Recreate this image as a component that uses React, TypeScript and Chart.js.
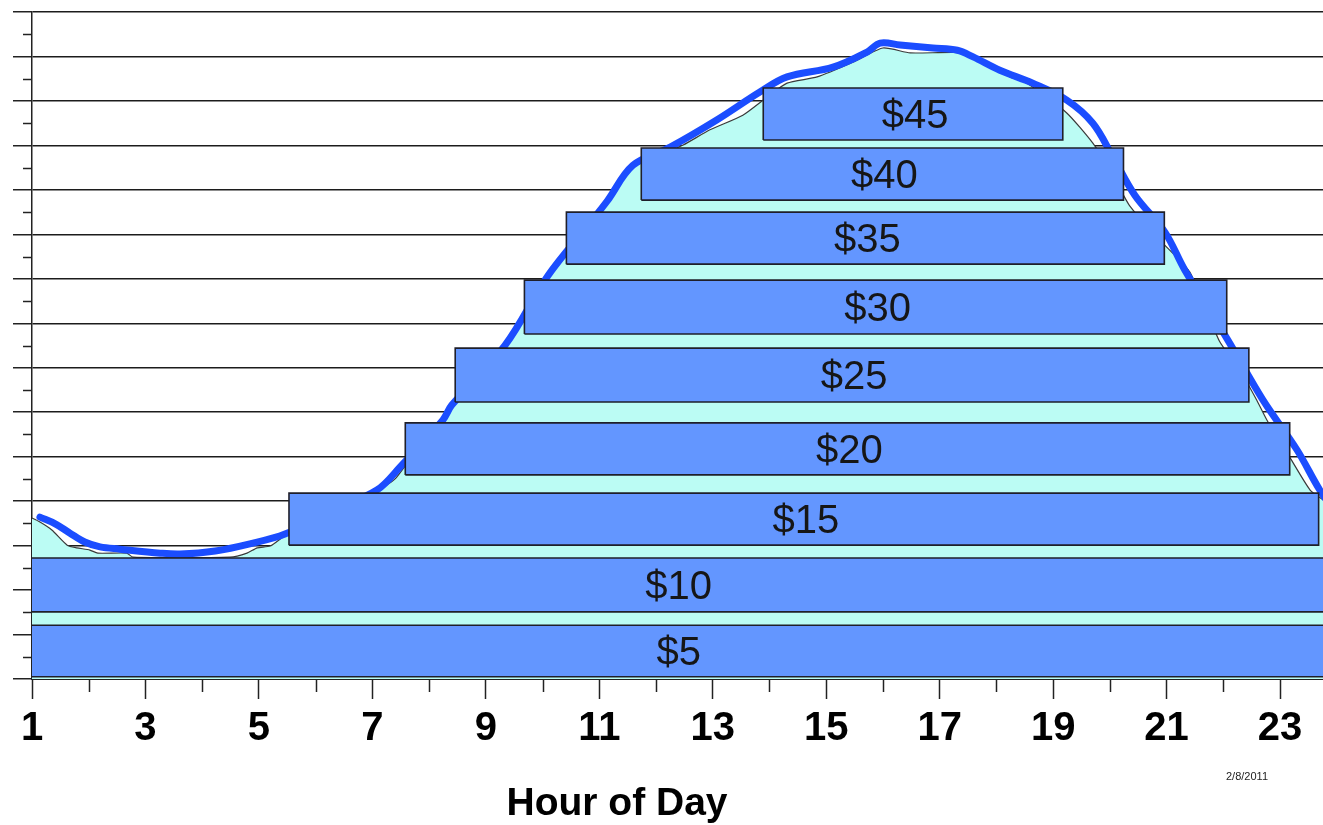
import React, { useEffect, useRef } from "react";
import { Chart, registerables } from "chart.js";

Chart.register(...registerables);

// ---- data ----
const xTickHours = [1, 3, 5, 7, 9, 11, 13, 15, 17, 19, 21, 23];
const xMinorHours = [2, 4, 6, 8, 10, 12, 14, 16, 18, 20, 22];
const yMajorTicks = [0, 1, 2, 3, 4, 5, 6, 7, 8, 9, 10, 11, 12, 13, 14, 15];
const yMinorTicks = [0.5, 1.5, 2.5, 3.5, 4.5, 5.5, 6.5, 7.5, 8.5, 9.5, 10.5, 11.5, 12.5, 13.5, 14.5];

// demand curve (area edge)
const demandHours = [0.965, 1.14, 1.35, 1.62, 1.79, 2.02, 2.16, 2.67, 2.78, 4.49, 4.79, 4.97, 5.2, 5.42, 5.72, 6.43, 7.05, 7.4, 7.84, 8.33, 8.9, 9.43, 9.78, 10.18, 10.57, 11.01, 11.37, 11.59, 12.07, 12.48, 12.95, 13.53, 13.96, 14.31, 14.84, 15.47, 16.0, 16.48, 17.45, 17.76, 18.24, 18.54, 19.24, 19.7, 20.0, 20.35, 20.88, 21.41, 21.93, 22.29, 22.59, 22.77, 23.17, 23.53, 23.76, 24.06];
const demandValues = [3.64, 3.53, 3.35, 3.01, 2.95, 2.9, 2.83, 2.83, 2.74, 2.74, 2.83, 2.95, 2.99, 3.19, 3.46, 3.91, 4.21, 4.5, 5.26, 6.0, 6.84, 7.6, 8.41, 9.15, 9.87, 10.59, 11.15, 11.51, 11.78, 12.01, 12.35, 12.68, 13.09, 13.4, 13.54, 13.87, 14.19, 14.08, 14.08, 13.85, 13.54, 13.4, 12.73, 12.05, 11.45, 10.64, 9.87, 9.15, 7.6, 6.95, 6.27, 5.82, 4.99, 4.25, 4.03, 3.69];

// hand-drawn blue trace
const traceHours = [1.14, 1.41, 1.67, 1.93, 2.2, 2.55, 3.26, 3.61, 4.23, 4.84, 5.46, 6.25, 7.08, 7.49, 8.24, 8.4, 9.34, 10.1, 10.8, 11.14, 11.59, 12.25, 13.07, 13.83, 14.31, 15.12, 15.72, 15.95, 16.3, 16.88, 17.31, 17.59, 18.06, 18.64, 19.24, 19.7, 20.05, 20.44, 20.97, 21.32, 22.08, 22.7, 23.3, 23.7, 24.06];
const traceValues = [3.64, 3.49, 3.28, 3.08, 2.97, 2.92, 2.83, 2.81, 2.88, 3.04, 3.26, 3.76, 4.25, 4.77, 5.82, 6.16, 7.51, 9.08, 10.2, 10.75, 11.55, 11.96, 12.57, 13.2, 13.54, 13.76, 14.1, 14.3, 14.26, 14.19, 14.14, 13.99, 13.69, 13.4, 13.02, 12.5, 11.75, 10.88, 10.05, 9.2, 7.62, 6.27, 5.15, 4.25, 3.58];

// price blocks
const blockLabels = ["$5", "$10", "$15", "$20", "$25", "$30", "$35", "$40", "$45"];
const blockStart = [0.97, 0.97, 5.53, 7.58, 8.46, 9.68, 10.42, 11.74, 13.89];
const blockEnd = [24.5, 24.5, 23.68, 23.17, 22.45, 22.06, 20.96, 20.24, 19.17];
const blockBottom = [0.05, 1.51, 3.01, 4.59, 6.23, 7.76, 9.33, 10.77, 12.12];
const blockTop = [1.21, 2.72, 4.18, 5.76, 7.44, 8.97, 10.5, 11.94, 13.29];

const X_MIN = 1;
const X_MAX = 23.757;
const FONT = "'Liberation Sans', Arial, Helvetica, sans-serif";

const extrasPlugin = {
  id: "extras",
  afterDatasetsDraw(chart: any) {
    const { ctx, chartArea } = chart;
    const x = chart.scales.x;
    const y = chart.scales.y;
    ctx.save();
    ctx.fillStyle = "#161616";
    ctx.font = `40px ${FONT}`;
    ctx.textAlign = "center";
    ctx.textBaseline = "alphabetic";
    blockLabels.forEach((lab, i) => {
      const l = Math.max(chartArea.left - 2, x.getPixelForValue(blockStart[i]));
      const r = Math.min(chartArea.right, x.getPixelForValue(blockEnd[i]));
      const cy = (y.getPixelForValue(blockBottom[i]) + y.getPixelForValue(blockTop[i])) / 2;
      ctx.fillText(lab, (l + r) / 2 + 2, cy + 14);
    });
    ctx.restore();
  },
  afterDraw(chart: any) {
    const { ctx, chartArea } = chart;
    const x = chart.scales.x;
    const y = chart.scales.y;
    ctx.save();
    ctx.strokeStyle = "#222";
    ctx.lineWidth = 1.5;
    xMinorHours.forEach((h) => {
      const px = Math.round(x.getPixelForValue(h)) + 0.5;
      ctx.beginPath();
      ctx.moveTo(px, chartArea.bottom);
      ctx.lineTo(px, chartArea.bottom + 13);
      ctx.stroke();
    });
    yMinorTicks.forEach((v) => {
      const py = Math.round(y.getPixelForValue(v)) + 0.5;
      ctx.beginPath();
      ctx.moveTo(chartArea.left - 9, py);
      ctx.lineTo(chartArea.left, py);
      ctx.stroke();
    });
    ctx.fillStyle = "#000";
    ctx.textAlign = "center";
    ctx.textBaseline = "alphabetic";
    ctx.font = `bold 39px ${FONT}`;
    ctx.fillText("Hour of Day", 617, 815);
    ctx.font = `11px ${FONT}`;
    ctx.fillStyle = "#222";
    ctx.fillText("2/8/2011", 1247, 780);
    ctx.restore();
  },
};

export default function App() {
  const canvasRef = useRef<HTMLCanvasElement | null>(null);

  useEffect(() => {
    document.body.style.margin = "0";
    const canvas = canvasRef.current;
    if (!canvas) return;

    const blockDatasets = blockLabels.map((lab, i) => ({
      label: lab,
      data: [
        { x: blockStart[i], y: blockBottom[i] },
        { x: blockEnd[i], y: blockBottom[i] },
        { x: blockEnd[i], y: blockTop[i] },
        { x: blockStart[i], y: blockTop[i] },
        { x: blockStart[i], y: blockBottom[i] },
      ],
      borderColor: "#1f1f2a",
      borderWidth: 1.6,
      backgroundColor: "#6396FF",
      fill: "shape" as any,
      pointRadius: 0,
      tension: 0,
      order: 1,
    }));

    const chart = new Chart(canvas, {
      type: "line",
      data: {
        datasets: [
          {
            label: "demand",
            data: demandHours.map((h, i) => ({ x: h, y: demandValues[i] })),
            borderColor: "#3a3a3a",
            borderWidth: 1.2,
            backgroundColor: "#BBFCF4",
            fill: "origin",
            pointRadius: 0,
            tension: 0.2,
            order: 5,
          },
          {
            label: "trace",
            data: traceHours.map((h, i) => ({ x: h, y: traceValues[i] })),
            borderColor: "#1B4DFF",
            borderWidth: 7,
            borderCapStyle: "round",
            borderJoinStyle: "round",
            fill: false,
            pointRadius: 0,
            tension: 0.35,
            order: 4,
          },
          ...blockDatasets,
        ] as any,
      },
      options: {
        animation: false,
        responsive: false,
        devicePixelRatio: 1,
        layout: { padding: { top: 12, left: 0, right: 0, bottom: 0 }, autoPadding: false } as any,
        plugins: {
          legend: { display: false },
          tooltip: { enabled: false },
          title: { display: false },
        },
        scales: {
          x: {
            type: "linear",
            min: X_MIN,
            max: X_MAX,
            afterBuildTicks: (scale: any) => {
              scale.ticks = xTickHours.map((v) => ({ value: v }));
            },
            afterFit: (scale: any) => {
              scale.height = 146;
            },
            grid: {
              display: true,
              drawOnChartArea: false,
              drawTicks: true,
              tickLength: 20,
              tickColor: "#222",
              tickWidth: 1.5,
            },
            border: { display: true, color: "#222", width: 2 },
            ticks: {
              autoSkip: false,
              maxRotation: 0,
              padding: 6,
              color: "#000",
              font: { family: FONT, size: 40, weight: "bold" },
              callback: (v: any) => String(v),
            },
          },
          y: {
            type: "linear",
            min: 0,
            max: 15,
            afterBuildTicks: (scale: any) => {
              scale.ticks = yMajorTicks.map((v) => ({ value: v }));
            },
            afterFit: (scale: any) => {
              scale.width = 32;
            },
            grid: {
              display: true,
              drawOnChartArea: true,
              drawTicks: true,
              tickLength: 19,
              color: "#1c1c1c",
              lineWidth: 1.5,
              tickColor: "#222",
              tickWidth: 1.5,
            },
            border: { display: true, color: "#222", width: 1.5 },
            ticks: { display: false },
          },
        },
      },
      plugins: [extrasPlugin],
    });

    return () => chart.destroy();
  }, []);

  return (
    <div style={{ width: 1323, height: 825, background: "#fff" }}>
      <canvas ref={canvasRef} width={1323} height={825} style={{ display: "block" }} />
    </div>
  );
}
